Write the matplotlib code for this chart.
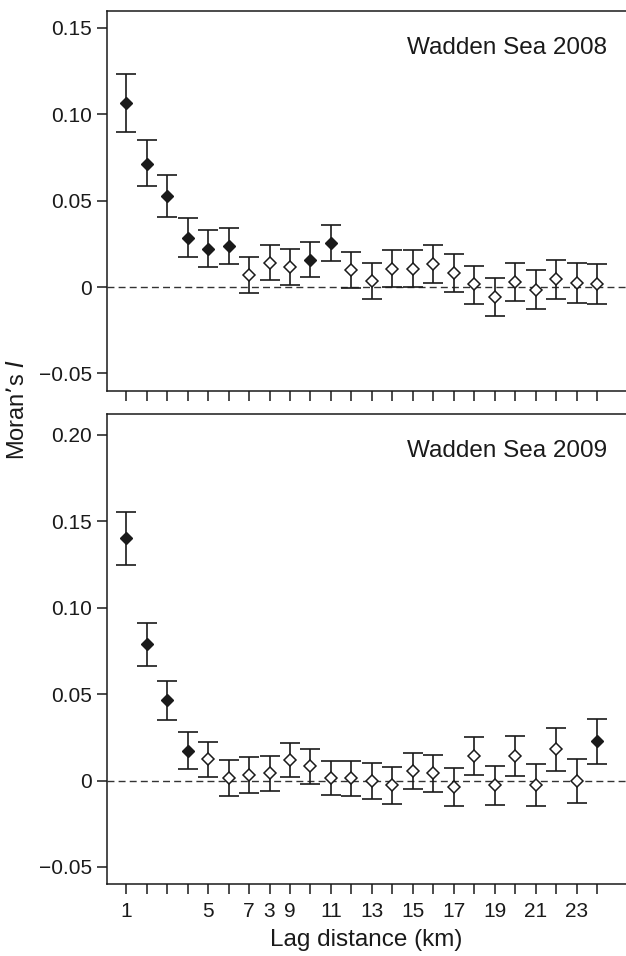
import matplotlib.pyplot as plt
import numpy as np

plt.rcParams['font.family'] = ['Liberation Sans', 'DejaVu Sans']

lag = np.arange(1, 25)

# Wadden Sea 2008
moran_2008 = [0.1064, 0.0713, 0.0524, 0.0286, 0.0222, 0.0239, 0.0072, 0.0141, 0.0116, 0.0158, 0.0253, 0.0100,
              0.0033, 0.0106, 0.0106, 0.0135, 0.0083, 0.0016, -0.0058, 0.0029, -0.0015, 0.0045, 0.0025, 0.0020]
upper_2008 = [0.1230, 0.0848, 0.0647, 0.0399, 0.0332, 0.0343, 0.0173, 0.0241, 0.0220, 0.0262, 0.0357, 0.0202,
              0.0139, 0.0212, 0.0212, 0.0243, 0.0193, 0.0124, 0.0052, 0.0139, 0.0097, 0.0158, 0.0139, 0.0135]
lower_2008 = [0.0896, 0.0582, 0.0405, 0.0172, 0.0114, 0.0135, -0.0032, 0.0039, 0.0014, 0.0056, 0.0150, -0.0003,
              -0.0071, 0.0000, 0.0000, 0.0023, -0.0029, -0.0096, -0.0169, -0.0083, -0.0129, -0.0071, -0.0090, -0.0096]
signif_2008 = [1, 1, 1, 1, 1, 1, 0, 0, 0, 1, 1, 0, 0, 0, 0, 0, 0, 0, 0, 0, 0, 0, 0, 0]

# Wadden Sea 2009
moran_2009 = [0.1401, 0.0788, 0.0464, 0.0173, 0.0123, 0.0016, 0.0032, 0.0042, 0.0119, 0.0084, 0.0016, 0.0013,
              -0.0003, -0.0028, 0.0055, 0.0042, -0.0036, 0.0142, -0.0028, 0.0142, -0.0026, 0.0180, -0.0003, 0.0230]
upper_2009 = [0.1556, 0.0913, 0.0576, 0.0281, 0.0225, 0.0119, 0.0134, 0.0144, 0.0218, 0.0184, 0.0115, 0.0111,
              0.0101, 0.0078, 0.0161, 0.0146, 0.0074, 0.0252, 0.0084, 0.0256, 0.0094, 0.0304, 0.0126, 0.0358]
lower_2009 = [0.1247, 0.0664, 0.0352, 0.0065, 0.0019, -0.0087, -0.0070, -0.0060, 0.0019, -0.0018, -0.0086, -0.0092,
              -0.0105, -0.0134, -0.0049, -0.0067, -0.0146, 0.0032, -0.0140, 0.0026, -0.0146, 0.0055, -0.0132, 0.0097]
signif_2009 = [1, 1, 1, 1, 0, 0, 0, 0, 0, 0, 0, 0, 0, 0, 0, 0, 0, 0, 0, 0, 0, 0, 0, 1]

xtick_pos = [1, 5, 7, 8, 9, 11, 13, 15, 17, 19, 21, 23]
xtick_lab = ['1', '5', '7', '3', '9', '11', '13', '15', '17', '19', '21', '23']

ink = '#1a1a1a'

fig = plt.figure(figsize=(6.26, 9.56), dpi=100)
ax1 = fig.add_axes([0.171, 0.5915, 0.829, 0.397])
ax2 = fig.add_axes([0.171, 0.0753, 0.829, 0.4916])


def panel(ax, y, lo, hi, sig, title, ylim, yticks, ylabels):
    y = np.array(y)
    err = [y - np.array(lo), np.array(hi) - y]
    ax.errorbar(lag, y, yerr=err, fmt='none', ecolor=ink, elinewidth=1.2,
                capsize=7, capthick=1.2, zorder=2)
    sig = np.array(sig, dtype=bool)
    ax.plot(lag[sig], y[sig], 'D', ms=6.3, mfc=ink, mec=ink, zorder=3)
    ax.plot(lag[~sig], y[~sig], 'D', ms=5.8, mfc='white', mec=ink, mew=1.1, zorder=3)
    ax.axhline(0, color='#333333', lw=1, ls=(0, (5, 3)), zorder=1)
    ax.set_xlim(0.07, 25.4)
    ax.set_ylim(*ylim)
    ax.set_yticks(yticks)
    ax.set_yticklabels(ylabels)
    ax.set_xticks(lag)
    ax.spines['right'].set_visible(False)
    for s in ['left', 'top', 'bottom']:
        ax.spines[s].set_linewidth(1.1)
        ax.spines[s].set_color(ink)
    ax.tick_params(direction='out', length=7, width=1.1, color=ink,
                   labelsize=15, labelcolor=ink, pad=4)
    h = ax.get_position().height * 956
    ax.text(0.963, 1 - 37 / h, title, transform=ax.transAxes,
            ha='right', va='center', fontsize=17.5, color=ink)


panel(ax1, moran_2008, lower_2008, upper_2008, signif_2008, 'Wadden Sea 2008',
      (-0.0599, 0.1597), [-0.05, 0, 0.05, 0.10, 0.15],
      ['\u22120.05', '0', '0.05', '0.10', '0.15'])
ax1.tick_params(axis='x', labelbottom=False)

panel(ax2, moran_2009, lower_2009, upper_2009, signif_2009, 'Wadden Sea 2009',
      (-0.0599, 0.2121), [-0.05, 0, 0.05, 0.10, 0.15, 0.20],
      ['\u22120.05', '0', '0.05', '0.10', '0.15', '0.20'])
lab_map = dict(zip(xtick_pos, xtick_lab))
ax2.set_xticklabels([lab_map.get(int(v), '') for v in lag])
ax2.tick_params(axis='x', pad=6)
ax2.set_xlabel('Lag distance (km)', fontsize=17.5, color=ink, labelpad=6)

fig.text(0.0295, 0.572, "Moran\u2019s $\\mathit{I}$", rotation=90, ha='center', va='center',
         fontsize=17, color=ink)

fig.savefig('out.png', dpi=100)
